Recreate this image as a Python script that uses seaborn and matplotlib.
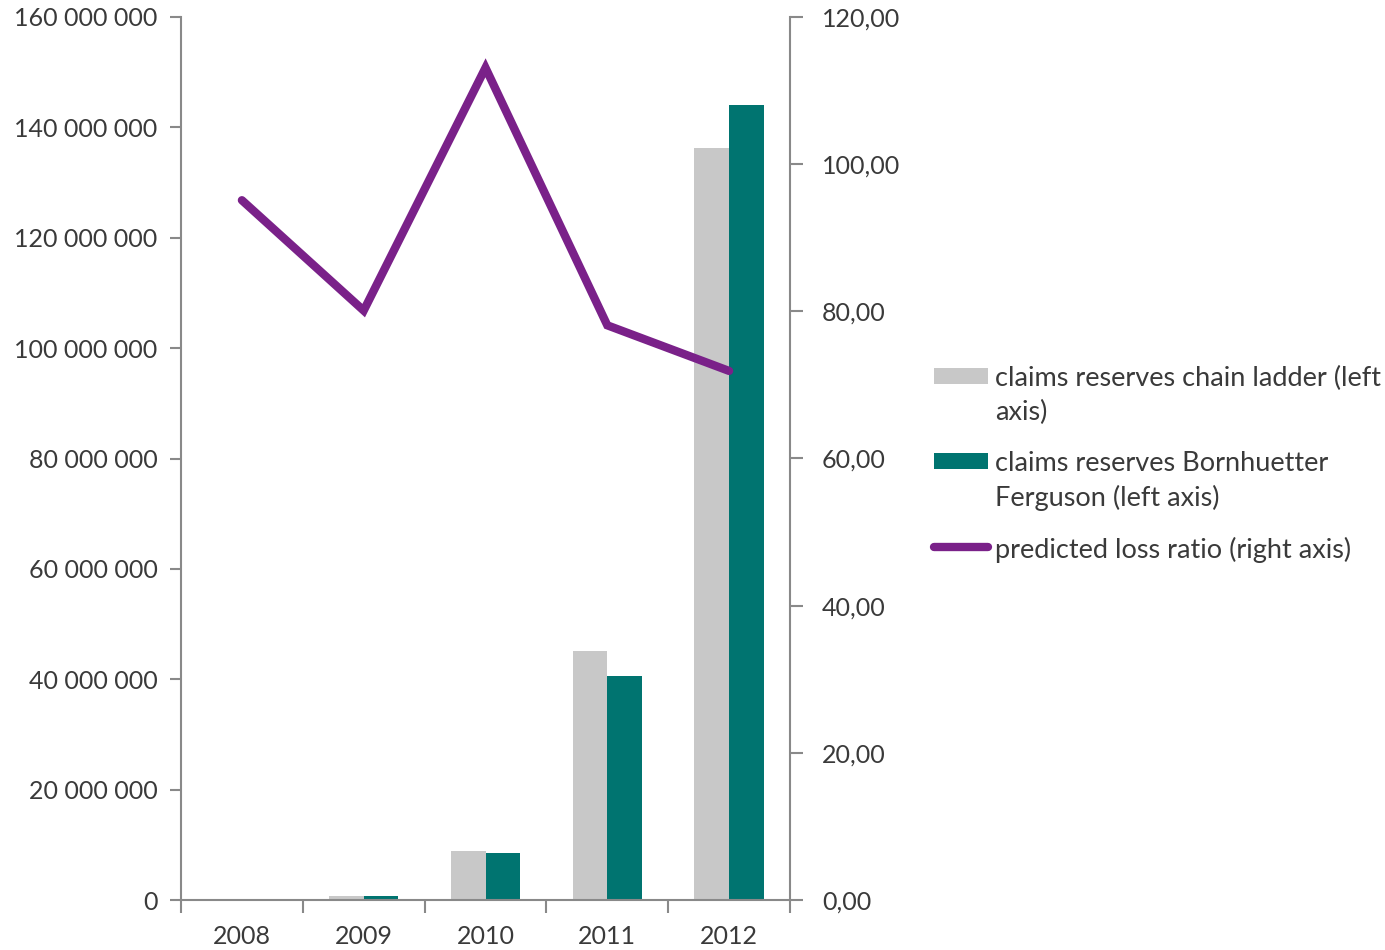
import matplotlib
matplotlib.use("Agg")
import matplotlib.pyplot as plt
import matplotlib.ticker as mticker
import numpy as np
import pandas as pd
import seaborn as sns

years = ["2008", "2009", "2010", "2011", "2012"]
chain_ladder = [0.1e6, 0.7e6, 8.9e6, 45.1e6, 136.2e6]
bornhuetter_ferguson = [0.1e6, 0.7e6, 8.5e6, 40.6e6, 144.0e6]
loss_ratio = [95.1, 80.1, 113.1, 78.1, 71.9]

label_cl = "claims reserves chain ladder (left\naxis)"
label_bf = "claims reserves Bornhuetter\nFerguson (left axis)"
label_lr = "predicted loss ratio (right axis)"

GREY = "#C8C8C8"
TEXT_GREY = TEXT = "#3A3A3A"
TEAL = "#007470"
PURPLE = "#7A2189"
AXIS = "#898989"

bars = pd.DataFrame({
    "year": years * 2,
    "value": chain_ladder + bornhuetter_ferguson,
    "series": [label_cl] * len(years) + [label_bf] * len(years),
})

sns.set_theme(style="white")
plt.rcParams["font.family"] = ["Lato", "DejaVu Sans"]
plt.rcParams["text.color"] = TEXT
FS = 18
FS_LEG = 19.5

W, H = 1385, 950
fig = plt.figure(figsize=(W / 100, H / 100), dpi=100)
ax = fig.add_axes([181 / W, 1 - 900 / H, (790 - 181) / W, (900 - 17) / H])

sns.barplot(data=bars, x="year", y="value", hue="series", order=years,
            palette=[GREY, TEAL], width=0.57, gap=0, saturation=1,
            edgecolor="none", legend=False, ax=ax)

ax2 = ax.twinx()
pos = np.arange(len(years))
sns.lineplot(x=pos, y=loss_ratio, color=PURPLE, linewidth=6,
             solid_capstyle="round", solid_joinstyle="miter", ax=ax2)

ax.set_xlim(-0.5, len(years) - 0.5)
ax.set_ylim(0, 160e6)
ax2.set_ylim(0, 120)
ax.yaxis.set_major_locator(mticker.MultipleLocator(20e6))
ax2.yaxis.set_major_locator(mticker.MultipleLocator(20))
ax.yaxis.set_major_formatter(mticker.FuncFormatter(
    lambda v, _: f"{int(round(v)):,}".replace(",", " ")))
ax2.yaxis.set_major_formatter(mticker.FuncFormatter(
    lambda v, _: f"{v:.2f}".replace(".", ",")))

# category boundaries carry the tick marks, centres carry the labels
ax.set_xticks(np.arange(-0.5, len(years)), labels=[""] * (len(years) + 1))
ax.set_xticks(pos, labels=years, minor=True)
ax.tick_params(axis="x", which="major", direction="out", length=9,
               width=1.5, color=AXIS, bottom=True)
ax.tick_params(axis="x", which="minor", length=0, pad=18,
               labelsize=FS, labelcolor=TEXT)
ax.tick_params(axis="y", direction="out", length=8, width=1.5, color=AXIS,
               left=True, pad=9, labelsize=FS, labelcolor=TEXT)
ax2.tick_params(axis="y", direction="out", length=9, width=1.5, color=AXIS,
                right=True, pad=14, labelsize=FS, labelcolor=TEXT)

ax.set_xlabel("")
ax.set_ylabel("")
ax2.set_ylabel("")
for a in (ax, ax2):
    a.grid(False)
    a.spines["top"].set_visible(False)
    for s in ("left", "right", "bottom"):
        a.spines[s].set_color(AXIS)
        a.spines[s].set_linewidth(1.5)
ax.spines["right"].set_visible(False)
ax2.spines["left"].set_visible(False)
ax2.spines["bottom"].set_visible(False)
ax.set_zorder(ax2.get_zorder() - 1)

# legend: key on the first line of each label, wrapped text beneath
def fx(px):
    return px / W

def fy(px):
    return 1 - px / H

key_x0, key_x1, text_x = 934, 988, 995
line_step = 34
entries = [(label_cl, "bar", GREY, 376), (label_bf, "bar", TEAL, 461),
           (label_lr, "line", PURPLE, 547)]
for label, kind, color, yc in entries:
    if kind == "bar":
        fig.patches.append(plt.Rectangle(
            (fx(key_x0), fy(yc + 8)), fx(key_x1 - key_x0), (16 / H),
            transform=fig.transFigure, facecolor=color, edgecolor="none"))
    else:
        fig.add_artist(plt.Line2D([fx(key_x0), fx(key_x1)], [fy(yc), fy(yc)],
                                  transform=fig.transFigure, color=color,
                                  linewidth=6, solid_capstyle="round"))
    for i, line in enumerate(label.split("\n")):
        fig.text(fx(text_x), fy(yc + i * line_step), line, fontsize=FS_LEG,
                 color=TEXT, ha="left", va="center_baseline")

fig.savefig("out.png", dpi=100)
